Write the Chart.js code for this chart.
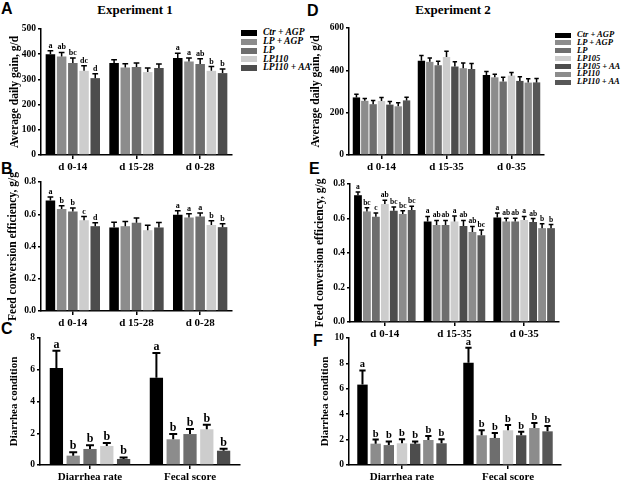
<!DOCTYPE html>
<html><head><meta charset="utf-8">
<script src="https://cdn.jsdelivr.net/npm/chart.js@4.4.1/dist/chart.umd.min.js"></script>
<style>
html,body{margin:0;padding:0;background:#fff;}
body{width:622px;height:481px;overflow:hidden;position:relative;font-family:'Liberation Serif','Times New Roman',serif;color:#000;}
canvas{position:absolute;}
.plet{position:absolute;font:bold 16px 'Liberation Sans',Arial,sans-serif;line-height:1;}
.ttl{position:absolute;font:bold 13px 'Liberation Serif',serif;line-height:1;transform:translateX(-50%);white-space:nowrap;}
.lg{position:absolute;font-style:italic;font-weight:bold;font-family:'Liberation Serif',serif;white-space:nowrap;}
.lg span{position:absolute;display:block;}
</style></head>
<body>
<div class="plet" style="left:1px;top:1px">A</div>
<div class="plet" style="left:1px;top:161px">B</div>
<div class="plet" style="left:1px;top:321px">C</div>
<div class="plet" style="left:307px;top:3px">D</div>
<div class="plet" style="left:309px;top:161px">E</div>
<div class="plet" style="left:313px;top:333px">F</div>
<div class="ttl" style="left:135px;top:3px">Experiment 1</div>
<div class="ttl" style="left:453px;top:3px">Experiment 2</div>
<div id="lgA" class="lg"></div>
<div id="lgD" class="lg"></div>
<canvas id="cA"></canvas><canvas id="cB"></canvas><canvas id="cC"></canvas>
<canvas id="cD"></canvas><canvas id="cE"></canvas><canvas id="cF"></canvas>
<script>
// ---------- categories / groups ----------
const exp1Groups = ['Ctr + AGP','LP + AGP','LP','LP110','LP110 + AA'];
const exp2Groups = ['Ctr + AGP','LP + AGP','LP','LP105','LP105 + AA','LP110','LP110 + AA'];
const exp1Periods = ['d 0-14','d 15-28','d 0-28'];
const exp2Periods = ['d 0-14','d 15-35','d 0-35'];
const diarrheaCats = ['Diarrhea rate','Fecal score'];
const exp1Colors = ['#000000','#8c8c8c','#6e6e6e','#cdcdcd','#4d4d4d'];
const exp2Colors = ['#000000','#8c8c8c','#6e6e6e','#cdcdcd','#4d4d4d','#8c8c8c','#575757'];

// ---------- A: ADG, experiment 1 (rows = groups, cols = periods) ----------
const adg1Mean = [[400,365,385],[391,347,371],[365,349,361],[334,329,334],[305,345,325]];
const adg1Sem  = [[14,13,19],[16,15,14],[20,16,21],[20,16,17],[17,16,16]];
const adg1Sig  = [['a','','a'],['ab','','a'],['bc','','ab'],['dc','','b'],['d','','b']];

// ---------- B: FCE, experiment 1 ----------
const fce1Mean = [[0.686,0.518,0.597],[0.632,0.526,0.580],[0.617,0.547,0.586],[0.563,0.501,0.534],[0.526,0.518,0.520]];
const fce1Sem  = [[0.021,0.033,0.025],[0.021,0.029,0.023],[0.021,0.029,0.021],[0.023,0.031,0.025],[0.021,0.031,0.021]];
const fce1Sig  = [['a','','a'],['b','','a'],['b','','a'],['c','','b'],['d','','b']];

// ---------- C: diarrhea, experiment 1 ----------
const dia1Mean = [[6.11,5.50],[0.59,1.62],[1.01,1.95],[1.20,2.25],[0.38,0.90]];
const dia1Sem  = [[1.09,1.56],[0.21,0.33],[0.23,0.32],[0.19,0.29],[0.10,0.13]];
const dia1Sig  = [['a','a'],['b','b'],['b','b'],['b','b'],['b','b']];

// ---------- D: ADG, experiment 2 ----------
const adg2Mean = [[272,445,378],[256,440,367],[240,424,347],[255,463,375],[238,418,350],[230,410,342],[258,406,343]];
const adg2Sem  = [[15,25,17],[11,18,15],[18,19,20],[17,27,15],[15,22,20],[17,25,18],[15,26,19]];
const adg2Sig  = [['','',''],['','',''],['','',''],['','',''],['','',''],['','',''],['','','']];

// ---------- E: FCE, experiment 2 ----------
const fce2Mean = [[0.735,0.583,0.606],[0.641,0.563,0.583],[0.610,0.563,0.583],[0.684,0.583,0.591],[0.645,0.556,0.579],[0.626,0.522,0.544],[0.649,0.503,0.544]];
const fce2Sem  = [[0.019,0.029,0.026],[0.022,0.026,0.019],[0.022,0.026,0.019],[0.022,0.031,0.021],[0.022,0.033,0.021],[0.019,0.032,0.025],[0.022,0.031,0.021]];
const fce2Sig  = [['a','a','a'],['bc','ab','ab'],['c','ab','ab'],['ab','a','a'],['bc','ab','ab'],['bc','ab','b'],['bc','bc','b']];

// ---------- F: diarrhea, experiment 2 ----------
const dia2Mean = [[6.33,8.06],[1.68,2.34],[1.57,2.13],[1.71,2.73],[1.68,2.34],[1.97,2.91],[1.71,2.65]];
const dia2Sem  = [[1.12,1.18],[0.32,0.39],[0.29,0.39],[0.31,0.42],[0.18,0.28],[0.31,0.40],[0.31,0.42]];
const dia2Sig  = [['a','a'],['b','b'],['b','b'],['b','b'],['b','b'],['b','b'],['b','b']];

const SERIF = "'Liberation Serif','Times New Roman',serif";

const errSig = {
  id:'errSig',
  afterDatasetsDraw(chart, args, o){
    const ctx = chart.ctx, ys = chart.scales.y;
    ctx.save();
    chart.data.datasets.forEach((ds, di) => {
      const meta = chart.getDatasetMeta(di);
      meta.data.forEach((bar, i) => {
        const v = ds.data[i], e = ds.sem[i];
        const yE = ys.getPixelForValue(v + e);
        const hw = bar.width * o.cap;
        ctx.strokeStyle = '#000'; ctx.lineWidth = o.lw;
        ctx.beginPath();
        ctx.moveTo(bar.x, bar.y); ctx.lineTo(bar.x, yE);
        ctx.moveTo(bar.x - hw, yE); ctx.lineTo(bar.x + hw, yE);
        ctx.stroke();
        const s = ds.sig[i];
        if (s) {
          ctx.fillStyle = '#000';
          ctx.font = 'bold ' + o.fs + 'px ' + SERIF;
          ctx.textAlign = 'center'; ctx.textBaseline = 'alphabetic';
          ctx.fillText(s, bar.x, yE - o.gap);
        }
      });
    });
    ctx.restore();
  }
};

function panel(p){
  const cv = document.getElementById(p.id);
  cv.width = p.width; cv.height = p.height;
  cv.style.left = p.left + 'px'; cv.style.top = p.top + 'px';
  cv.style.width = p.width + 'px'; cv.style.height = p.height + 'px';
  new Chart(cv, {
    type:'bar',
    data:{
      labels:p.labels,
      datasets:p.groups.map((g,i)=>({
        label:g, data:p.mean[i], sem:p.sem[i], sig:p.sig[i],
        backgroundColor:p.colors[i], borderWidth:0,
        categoryPercentage:p.catPct, barPercentage:p.barPct
      }))
    },
    options:{
      responsive:false, animation:false, devicePixelRatio:1,
      layout:{padding:{top:p.padTop, right:3, left:0, bottom:0}},
      plugins:{legend:{display:false}, tooltip:{enabled:false}, title:{display:false},
        errSig:{lw:p.lw, cap:0.3, fs:p.sigFs, gap:p.gap}},
      scales:{
        x:{
          grid:{offset:false, drawOnChartArea:false, color:'#000', lineWidth:1.5, tickLength:4},
          border:{color:'#000', width:1.5},
          ticks:{color:'#000', font:{family:SERIF, weight:'bold', size:11}, padding:2, maxRotation:0, autoSkip:false},
          afterFit:s=>{ s.height = p.xH; }
        },
        y:{
          min:0, max:p.yMax,
          ticks:{stepSize:p.step, color:'#000', font:{family:SERIF, weight:'bold', size:9.5}, padding:2,
                 callback:v=>Number(v).toFixed(p.dec)},
          grid:{drawOnChartArea:false, color:'#000', lineWidth:1.5, tickLength:3},
          border:{color:'#000', width:1.5},
          title:{display:true, text:p.yTitle, color:'#000', font:{family:SERIF, weight:'bold', size:p.tFs}, padding:{top:p.tPad, bottom:0}},
          afterFit:s=>{ s.width = p.yW; }
        }
      }
    },
    plugins:[errSig]
  });
}

panel({id:'cA', left:0, top:19, width:235, height:158, padTop:10, xH:22, yW:41, tPad:8, tFs:11.5,
  labels:exp1Periods, groups:exp1Groups, colors:exp1Colors, mean:adg1Mean, sem:adg1Sem, sig:adg1Sig,
  yMax:500, step:100, dec:0, yTitle:'Average daily gain, g/d', catPct:0.88, barPct:0.85, lw:1.5, sigFs:8, gap:3});
panel({id:'cB', left:0, top:172, width:235, height:161, padTop:10, xH:22, yW:41, tPad:6, tFs:11.5,
  labels:exp1Periods, groups:exp1Groups, colors:exp1Colors, mean:fce1Mean, sem:fce1Sem, sig:fce1Sig,
  yMax:0.8, step:0.2, dec:1, yTitle:'Feed conversion efficiency, g/g', catPct:0.88, barPct:0.85, lw:1.5, sigFs:8, gap:3});
panel({id:'cC', left:0, top:328, width:243, height:153, padTop:10, xH:16, yW:40, tPad:8, tFs:11,
  labels:diarrheaCats, groups:exp1Groups, colors:exp1Colors, mean:dia1Mean, sem:dia1Sem, sig:dia1Sig,
  yMax:8, step:2, dec:0, yTitle:'Diarrhea condition', catPct:0.84, barPct:0.79, lw:2, sigFs:12, gap:3});
panel({id:'cD', left:306, top:18, width:241, height:159, padTop:10, xH:22, yW:43, tPad:3, tFs:11.5,
  labels:exp2Periods, groups:exp2Groups, colors:exp2Colors, mean:adg2Mean, sem:adg2Sem, sig:adg2Sig,
  yMax:600, step:200, dec:0, yTitle:'Average daily gain, g/d', catPct:0.9, barPct:0.88, lw:1.5, sigFs:8, gap:3});
panel({id:'cE', left:300, top:174, width:262, height:166, padTop:10, xH:18, yW:50, tPad:13, tFs:11.5,
  labels:exp2Periods, groups:exp2Groups, colors:exp2Colors, mean:fce2Mean, sem:fce2Sem, sig:fce2Sig,
  yMax:0.8, step:0.2, dec:1, yTitle:'Feed conversion efficiency, g/g', catPct:0.9, barPct:0.87, lw:1.5, sigFs:7.5, gap:3});
panel({id:'cF', left:304, top:328, width:260, height:153, padTop:10, xH:16, yW:45, tPad:15, tFs:11,
  labels:diarrheaCats, groups:exp2Groups, colors:exp2Colors, mean:dia2Mean, sem:dia2Sem, sig:dia2Sig,
  yMax:10, step:2, dec:0, yTitle:'Diarrhea condition', catPct:0.87, barPct:0.79, lw:2, sigFs:10.5, gap:3});

function legend(id, groups, colors, swLeft, txtLeft, y0, dy, fs, swH){
  const el = document.getElementById(id);
  el.style.left = '0px'; el.style.top = '0px'; el.style.fontSize = fs + 'px';
  groups.forEach((g,i)=>{
    const cy = y0 + dy*i;
    const sw = document.createElement('span');
    sw.style.cssText = `left:${swLeft}px;top:${cy - swH/2}px;width:16px;height:${swH}px;background:${colors[i]};`;
    const t = document.createElement('span');
    t.textContent = g;
    t.style.cssText = `left:${txtLeft}px;top:${cy - fs*0.6}px;line-height:${fs*1.15}px;`;
    el.appendChild(sw); el.appendChild(t);
  });
}
legend('lgA', exp1Groups, exp1Colors, 241, 263, 33, 8.75, 9.5, 6);
legend('lgD', exp2Groups, exp2Colors, 555, 577, 35, 7.9, 8.5, 5);
</script>
</body></html>
